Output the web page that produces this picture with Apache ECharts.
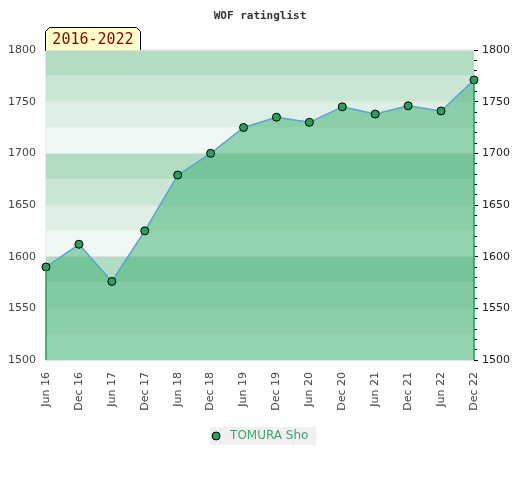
<!DOCTYPE html>
<html>
<head>
<meta charset="utf-8">
<script src="https://cdn.jsdelivr.net/npm/echarts@6/dist/echarts.min.js"></script>
<style>
  html, body { margin: 0; padding: 0; background: #fff; }
  #chart { width: 520px; height: 480px; }
</style>
</head>
<body>
<div id="chart"></div>
<script>
// rating list data
var periods = ['Jun 16', 'Dec 16', 'Jun 17', 'Dec 17', 'Jun 18', 'Dec 18', 'Jun 19',
               'Dec 19', 'Jun 20', 'Dec 20', 'Jun 21', 'Dec 21', 'Jun 22', 'Dec 22'];
var ratings = [1590, 1612, 1576, 1625, 1679, 1700, 1725, 1735, 1730, 1745, 1738, 1746, 1741, 1771];
var playerName = 'TOMURA Sho';
var rangeLabel = '2016-2022';
var yMin = 1500, yMax = 1800;

function initRatingChart() {
  var chart = echarts.init(document.getElementById('chart'));
  var first = 0;
  var last = periods.length - 1;
  var option = {
    animation: false,
    title: {
      text: 'WOF ratinglist',
      left: 'center',
      top: 6,
      textStyle: { fontFamily: 'DejaVu Sans Mono', fontWeight: 'bold', fontSize: 11, color: '#333' }
    },
    legend: {
      data: [playerName],
      left: 'center',
      top: 427,
      backgroundColor: '#f0f0f0',
      padding: [3, 8, 3, 2],
      itemWidth: 18,
      itemHeight: 8,
      icon: 'circle',
      itemStyle: { color: '#2e9e5b', borderColor: '#000', borderWidth: 1 },
      textStyle: { fontFamily: 'DejaVu Sans', fontSize: 12, color: '#3aa76d' }
    },
    grid: {
      left: 46, right: 46, top: 50, bottom: 120,
      show: true, borderColor: '#dcdcdc', borderWidth: 1
    },
    xAxis: {
      type: 'category',
      data: periods,
      boundaryGap: false,
      axisLine: { show: false },
      axisTick: { show: false },
      axisLabel: { rotate: 90, margin: 12, fontFamily: 'DejaVu Sans', fontSize: 11, color: '#444' },
      splitLine: { show: false }
    },
    yAxis: [{
      type: 'value',
      position: 'left',
      min: yMin, max: yMax, interval: 25,
      axisLine: { show: false },
      axisTick: { show: false },
      axisLabel: {
        margin: 10, fontFamily: 'DejaVu Sans', fontSize: 11, color: '#444',
        formatter: function (v) { return v % 50 === 0 ? String(v) : ''; }
      },
      splitLine: { show: true, lineStyle: { color: ['#e2e2e2', 'rgba(0,0,0,0)'], width: 1 } },
      splitArea: { show: true, areaStyle: { color: ['#eff8f2', '#ddf0e3', '#cae7d5', '#b3ddc2'] } }
    }, {
      type: 'value',
      position: 'right',
      min: yMin, max: yMax, interval: 50,
      axisLine: { show: false },
      axisTick: { show: true, length: 4, lineStyle: { color: '#000' } },
      minorTick: { show: true, splitNumber: 5, length: 3, lineStyle: { color: '#000' } },
      axisLabel: {
        margin: 8, fontFamily: 'DejaVu Sans', fontSize: 11, color: '#222',
        formatter: function (v) { return String(v); }
      },
      splitLine: { show: false }
    }],
    series: [{
      name: playerName,
      type: 'line',
      data: ratings,
      symbol: 'circle',
      symbolSize: 8,
      itemStyle: { color: '#2e9e5b', borderColor: '#000', borderWidth: 1 },
      lineStyle: { color: '#5ba3d6', width: 1.5 },
      areaStyle: { color: 'rgb(57,173,109)', opacity: 0.5, origin: 'start' },
      z: 3,
      markLine: {
        silent: true,
        symbol: 'none',
        label: { show: false },
        lineStyle: { color: '#22a052', type: 'solid', width: 1.5 },
        data: [
          [{ coord: [periods[first], ratings[first]] }, { coord: [periods[first], yMin] }],
          [{ coord: [periods[last], ratings[last]] }, { coord: [periods[last], yMin] }]
        ]
      }
    }],
    graphic: [{
      type: 'group',
      left: 45,
      top: 27,
      z: 10,
      children: [{
        type: 'polygon',
        shape: { points: [[0, 23], [0, 4], [4, 0], [91, 0], [95, 4], [95, 23]] },
        style: { fill: '#ffffcc', stroke: '#000', lineWidth: 1 }
      }, {
        type: 'text',
        x: 47.5, y: 13,
        style: {
          text: rangeLabel, fill: '#8b0000', font: '15px "DejaVu Sans Mono"',
          textAlign: 'center', textVerticalAlign: 'middle'
        }
      }]
    }]
  };
  chart.setOption(option);
}

initRatingChart();
</script>
</body>
</html>
